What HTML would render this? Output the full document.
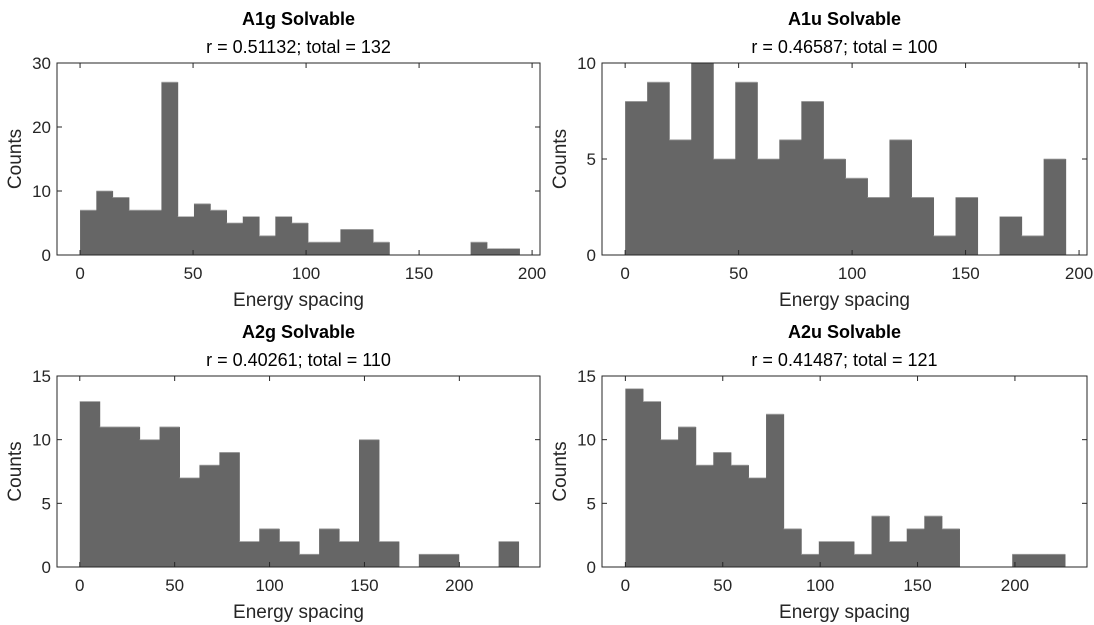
<!DOCTYPE html>
<html><head><meta charset="utf-8"><style>
body{margin:0;background:#fff;}
svg{display:block;font-family:"Liberation Sans",Arial,sans-serif;}
</style></head><body>
<svg id="fig" width="1094" height="625" viewBox="0 0 1094 625"></svg>
<script>
const titles=["A1g Solvable","A1u Solvable","A2g Solvable","A2u Solvable"];
const subtitles=["r = 0.51132; total = 132","r = 0.46587; total = 100","r = 0.40261; total = 110","r = 0.41487; total = 121"];
const countsA1g=[7,10,9,7,7,27,6,8,7,5,6,3,6,5,2,2,4,4,2,0,0,0,0,0,2,1,1];
const countsA1u=[8,9,6,10,5,9,5,6,8,5,4,3,6,3,1,3,0,2,1,5];
const countsA2g=[13,11,11,10,11,7,8,9,2,3,2,1,3,2,10,2,0,1,1,0,0,2];
const countsA2u=[14,13,10,11,8,9,8,7,12,3,1,2,2,1,4,2,3,4,3,0,0,0,1,1,1];
const binEnds=[194.4,194.1,231.2,225.7];
const xTicks=[0,50,100,150,200];
const yTicksA=[0,10,20,30];
const yTicksB=[0,5,10];
const yTicksC=[0,5,10,15];
const yMax=[30,10,15,15];
const xMin=[-10.2,-10.2,-12,-12];
const xMax=[203.5,203.5,242.5,237];

const panels=[
 {L:57,R:540,T:63,B:255,counts:countsA1g,yt:yTicksA},
 {L:602,R:1087,T:63,B:255,counts:countsA1u,yt:yTicksB},
 {L:57,R:540,T:376,B:567,counts:countsA2g,yt:yTicksC},
 {L:602,R:1087,T:376,B:567,counts:countsA2u,yt:yTicksC}
];
const NS="http://www.w3.org/2000/svg";
const svg=document.getElementById('fig');
function mk(tag,attrs,parent){const e=document.createElementNS(NS,tag);for(const k in attrs)e.setAttribute(k,attrs[k]);(parent||svg).appendChild(e);return e;}
panels.forEach((p,i)=>{
 const g=mk('g',{});
 
 
 const xs=v=>p.L+(v-xMin[i])/(xMax[i]-xMin[i])*(p.R-p.L);
 const ys=v=>p.B-v/yMax[i]*(p.B-p.T);
 const n=p.counts.length, w=binEnds[i]/n;
 p.counts.forEach((c,j)=>{
  if(c<=0)return;
  const x0=xs(j*w),x1=xs((j+1)*w);
  const r=mk('rect',{x:x0,y:ys(c),width:x1-x0+0.5,height:ys(0)-ys(c),fill:'#666666'},g);
  
  
  mk('line',{x1:x0,x2:x1,y1:ys(c),y2:ys(c),stroke:'#a8a8a8','stroke-width':0.8},g);
 });
 const box=mk('rect',{x:p.L,y:p.T,width:p.R-p.L,height:p.B-p.T,fill:'none',stroke:'#262626','stroke-width':1},g);
 
 
 xTicks.forEach(t=>{
  const x=xs(t);
  mk('line',{x1:x,x2:x,y1:p.B,y2:p.B-5,stroke:'#262626'},g);
  mk('line',{x1:x,x2:x,y1:p.T,y2:p.T+5,stroke:'#262626'},g);
  const tx=mk('text',{x:x,y:p.B+24,'font-size':17,'text-anchor':'middle',fill:'#262626'},g);
  tx.textContent=t;
  
  
 });
 p.yt.forEach(t=>{
  const y=ys(t);
  mk('line',{x1:p.L,x2:p.L+5,y1:y,y2:y,stroke:'#262626'},g);
  mk('line',{x1:p.R,x2:p.R-5,y1:y,y2:y,stroke:'#262626'},g);
  const tx=mk('text',{x:p.L-6,y:y+6,'font-size':17,'text-anchor':'end',fill:'#262626'},g);
  tx.textContent=t;
  
  
 });
 const cx=(p.L+p.R)/2;
 const t1=mk('text',{x:cx,y:p.T-38,'font-size':18,'font-weight':'bold','text-anchor':'middle',fill:'#000'},g);
 t1.textContent=titles[i];
 
 
 const t2=mk('text',{x:cx,y:p.T-10,'font-size':18,'text-anchor':'middle',fill:'#000'},g);
 t2.textContent=subtitles[i];
 
 
 const xl=mk('text',{x:cx,y:p.B+51,'font-size':19,'text-anchor':'middle',fill:'#262626'},g);
 xl.textContent='Energy spacing';
 
 
 const yc=(p.T+p.B)/2, yx=p.L-36;
 const yl=mk('text',{x:yx,y:yc,'font-size':19,'text-anchor':'middle',fill:'#262626',transform:`rotate(-90 ${yx} ${yc})`},g);
 yl.textContent='Counts';
 
 
});
</script>
</body></html>
